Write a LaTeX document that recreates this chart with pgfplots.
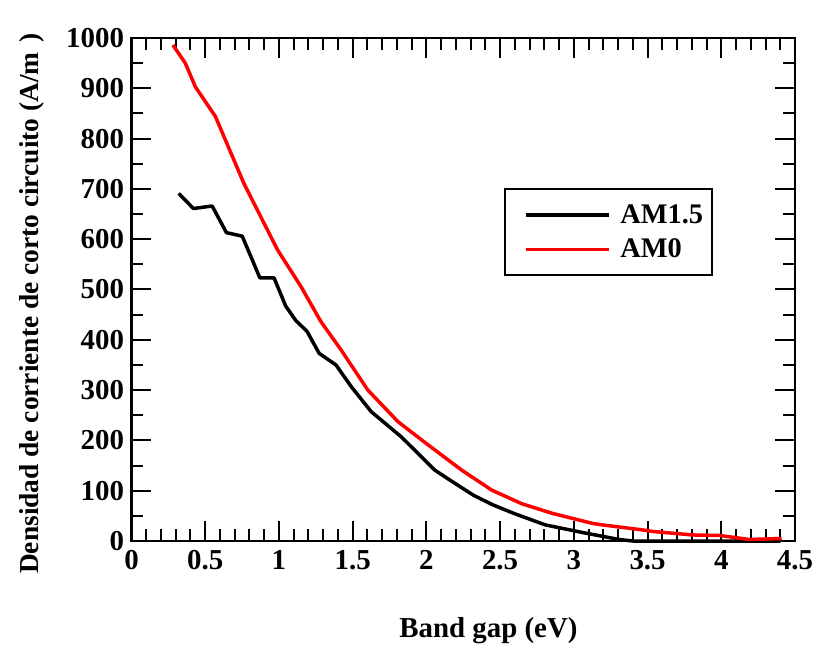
\documentclass[border=0pt]{standalone}
\usepackage{fontspec}
\setmainfont{Liberation Serif}
\usepackage{pgfplots}
\pgfplotsset{compat=1.18}
\newcommand{\bigf}{\fontsize{29}{34}\selectfont\bfseries}
\newcommand{\legf}{\fontsize{28.5}{33}\selectfont\bfseries}
\newcommand{\labf}{\fontsize{29}{34}\selectfont\bfseries}
\newcommand{\ylabf}{\fontsize{27.5}{32}\selectfont\bfseries}
\begin{document}
\begin{tikzpicture}
\begin{axis}[
  name=ax,
  scale only axis,
  width=663.5bp, height=503bp,
  xmin=0, xmax=4.5, ymin=0, ymax=1000,
  xtick={0,0.5,...,4.5}, ytick={0,100,...,1000},
  minor x tick num=4, minor y tick num=1,
  tick align=inside,
  major tick length=20bp, minor tick length=12bp,
  every tick/.style={black, line width=2bp},
  axis line style={line width=2.5bp},
  /pgf/number format/assume math mode=true,
  /pgf/number format/1000 sep={},
  tick label style={font=\bigf},
  yticklabel style={xshift=-4bp},
  xticklabel style={yshift=-6bp},
  xlabel={Band gap (eV)},
  ylabel={Densidad de corriente de corto circuito (A/m\phantom{\textsuperscript{2}})},
  xlabel style={font=\labf, at={(rel axis cs:0.538,0)}, anchor=base, yshift=-96bp},
  ylabel style={font=\ylabf, at={(rel axis cs:0,0.5)}, anchor=center, xshift=-14bp, yshift=101bp},
  legend style={at={(axis cs:2.525,702)}, anchor=north west, draw=black, line width=2bp,
    font=\legf, inner xsep=7bp, inner ysep=14bp, row sep=10bp, column sep=8bp, cells={anchor=west}},
  legend image code/.code={\path (-12bp,0bp); \draw[#1, line width=3.5bp] (0bp,0bp) -- (83bp,0bp);},
  clip=false,
]
\addplot[black, line width=3.5bp, line join=round] coordinates {
(0.32,691) (0.42,661) (0.547,666) (0.644,613) (0.751,606) (0.871,523) (0.967,523)
(1.046,467) (1.115,438) (1.19,417) (1.273,373) (1.387,350) (1.49,307) (1.626,257)
(1.83,207) (2.057,141) (2.16,121) (2.319,91) (2.45,72) (2.592,55) (2.807,32) (3.057,17)
(3.307,3) (3.4,0) (3.6,0) (4.0,0) (4.4,0)
};
\addlegendentry{AM1.5}
\addplot[red, line width=3.5bp, line join=round] coordinates {
(0.281,986) (0.365,950) (0.433,903) (0.569,844) (0.762,711) (0.99,579) (1.149,506)
(1.285,436) (1.421,380) (1.603,300) (1.808,237) (2.012,191) (2.103,171) (2.239,141)
(2.444,101) (2.648,74) (2.853,55) (3.126,35) (3.194,32) (3.467,22) (3.534,19)
(3.807,12) (3.99,11) (4.19,3) (4.41,5)
};
\addlegendentry{AM0}
\end{axis}
\pgfresetboundingbox
\path (ax.south west) ++(-131.5bp,-104bp) rectangle ++(817bp,645bp);
\end{tikzpicture}
\end{document}
